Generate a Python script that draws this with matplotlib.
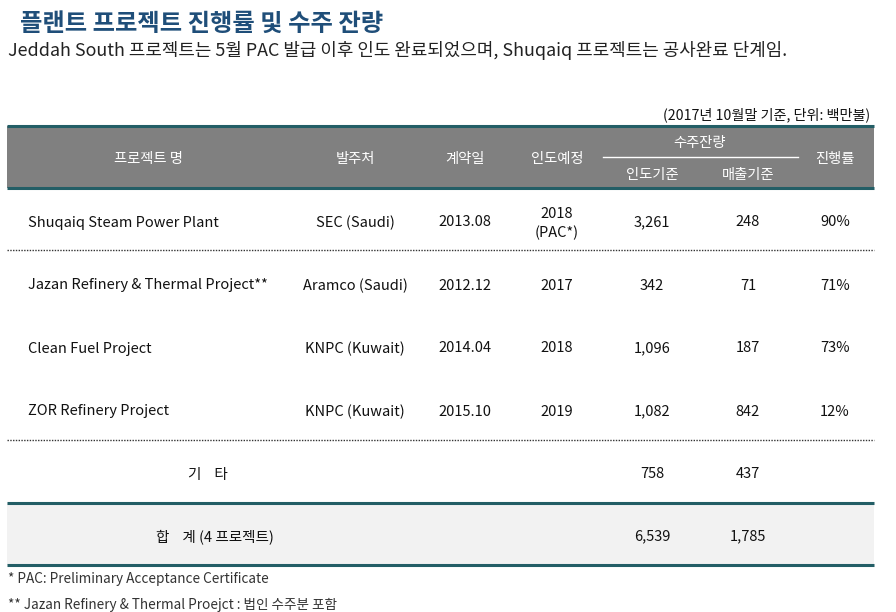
import matplotlib.pyplot as plt

plt.rcParams['font.family'] = ['Noto Sans CJK KR', 'DejaVu Sans']

title = "플랜트 프로젝트 진행률 및 수주 잔량"
subtitle = "Jeddah South 프로젝트는 5월 PAC 발급 이후 인도 완료되었으며, Shuqaiq 프로젝트는 공사완료 단계임."
unit_note = "(2017년 10월말 기준, 단위: 백만불)"

projects = ["Shuqaiq Steam Power Plant", "Jazan Refinery & Thermal Project**",
            "Clean Fuel Project", "ZOR Refinery Project"]
clients = ["SEC (Saudi)", "Aramco (Saudi)", "KNPC (Kuwait)", "KNPC (Kuwait)"]
contract = ["2013.08", "2012.12", "2014.04", "2015.10"]
delivery = ["2018\n(PAC*)", "2017", "2018", "2019"]
backlog_delivery = [3261, 342, 1096, 1082]
backlog_sales = [248, 71, 187, 842]
progress = [90, 71, 73, 12]
other_delivery, other_sales = 758, 437
total_delivery, total_sales = 6539, 1785
footnotes = ["* PAC: Preliminary Acceptance Certificate",
             "** Jazan Refinery & Thermal Proejct : 법인 수주분 포함"]

teal = "#235e66"
fig = plt.figure(figsize=(8.96, 6.12), dpi=100)
ax = fig.add_axes([0, 0, 1, 1])
ax.set_xlim(0, 896)
ax.set_ylim(612, 0)
ax.axis("off")

ax.text(20, 21, title, fontsize=17.5, fontweight="bold", color="#1f4e79", va="center_baseline")
ax.text(8, 48, subtitle, fontsize=12.9, color="#222222", va="center_baseline")
ax.text(870, 113, unit_note, fontsize=10.2, color="#111111", va="center_baseline", ha="right")

x0, x1 = 7, 874
# header band and total band
ax.fill_between([x0, x1], 126, 188, color="#808080", lw=0)
ax.fill_between([x0, x1], 503, 565, color="#f2f2f2", lw=0)
for y in (126, 188, 503, 565):
    ax.plot([x0, x1], [y, y], color=teal, lw=2.2, solid_capstyle="butt")
for y in (250, 440):
    ax.plot([x0, x1], [y, y], color="#333333", lw=1, ls=(0, (1, 1)))

hdr = dict(fontsize=10.3, color="white", va="center_baseline", ha="center")
ax.text(148, 158, "프로젝트 명", **hdr)
ax.text(355, 158, "발주처", **hdr)
ax.text(465, 158, "계약일", **hdr)
ax.text(557, 158, "인도예정", **hdr)
ax.text(700, 142, "수주잔량", **hdr)
ax.plot([603, 798], [157, 157], color="white", lw=1)
ax.text(652, 174, "인도기준", **hdr)
ax.text(748, 174, "매출기준", **hdr)
ax.text(835, 158, "진행률", **hdr)

body = dict(fontsize=10.5, color="#111111", va="center_baseline", ha="center")
row_y = [221, 284, 347, 410]
for i, y in enumerate(row_y):
    ax.text(28, y, projects[i], fontsize=10.5, color="#111111", va="center_baseline", ha="left")
    ax.text(355, y, clients[i], **body)
    ax.text(465, y, contract[i], **body)
    if "\n" in delivery[i]:
        top, bottom = delivery[i].split("\n")
        ax.text(557, y - 9, top, **body)
        ax.text(557, y + 10, bottom, **body)
    else:
        ax.text(557, y, delivery[i], **body)
    ax.text(652, y, f"{backlog_delivery[i]:,}", **body)
    ax.text(748, y, f"{backlog_sales[i]:,}", **body)
    ax.text(835, y, f"{progress[i]}%", **body)

ax.text(208, 473, "기    타", **body)
ax.text(652, 473, f"{other_delivery:,}", **body)
ax.text(748, 473, f"{other_sales:,}", **body)

ax.text(215, 535, "합    계 (4 프로젝트)", **body)
ax.text(652, 535, f"{total_delivery:,}", **body)
ax.text(748, 535, f"{total_sales:,}", **body)

ax.text(8, 578, footnotes[0], fontsize=9.8, color="#333333", va="center_baseline")
ax.text(8, 603, footnotes[1], fontsize=9.8, color="#333333", va="center_baseline")

fig.savefig("out.png", dpi=100)
